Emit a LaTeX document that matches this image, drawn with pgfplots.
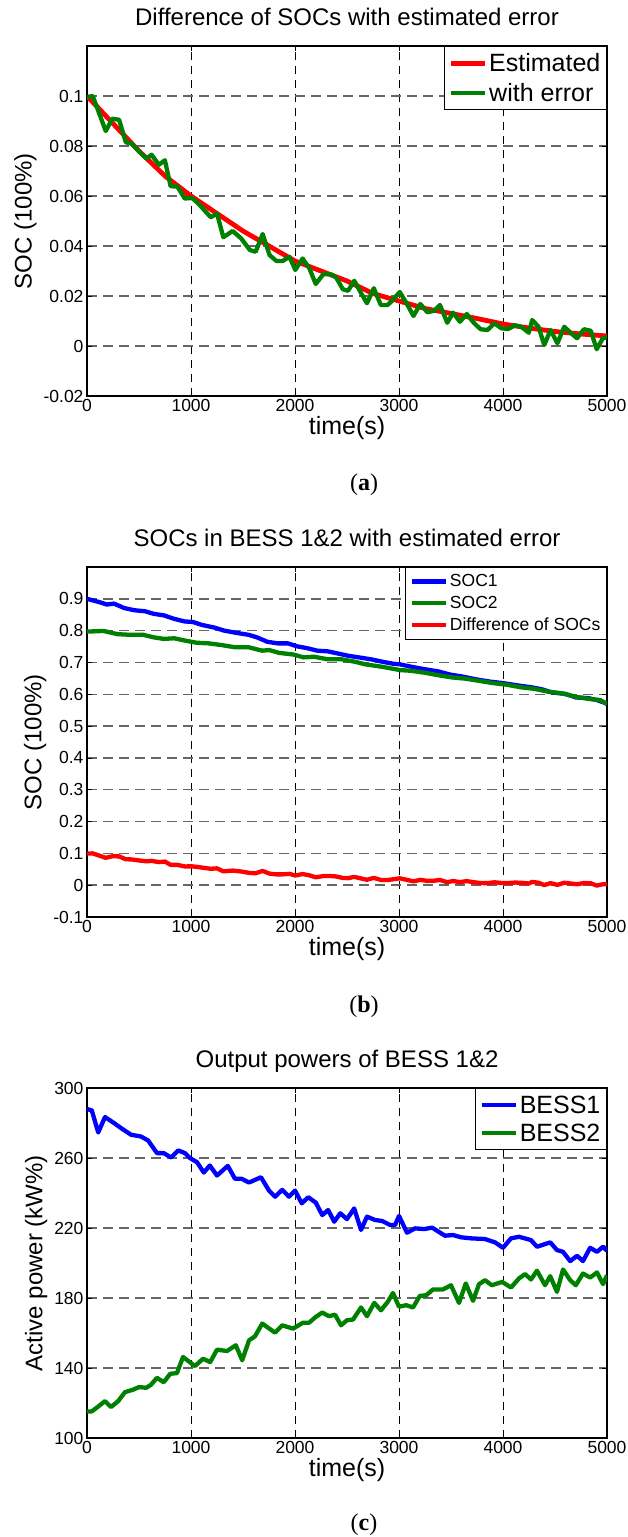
\documentclass[border=0pt]{standalone}
\usepackage{fontspec}
\setmainfont{Liberation Sans}
\newfontfamily\capfont{Liberation Serif}
\usepackage{pgfplots}
\pgfplotsset{compat=1.18}

\definecolor{mred}{rgb}{1,0,0}
\definecolor{mgreen}{rgb}{0,0.5,0}
\definecolor{mblue}{rgb}{0,0,1}

\pgfplotsset{
  matfig/.style={
    scale only axis, width=520pt, height=350pt,
    xmin=0, xmax=5000,
    xtick={0,1000,2000,3000,4000,5000},
    xticklabels={0,1000,2000,3000,4000,5000},
    grid=major,
    x grid style={black, line width=1pt, dash pattern=on 8pt off 6pt},
    y grid style={black!60, line width=1.4pt, dash pattern=on 10pt off 6pt},
    axis line style={line width=1.6pt},
    tick align=inside, major tick length=5pt,
    tick style={black, line width=0.8pt},
    tick label style={font=\fontsize{17.5}{20}\selectfont},
    title style={font=\fontsize{24}{28}\selectfont, at={(0.5,1)}, anchor=base, yshift=15pt},
    xlabel={time(s)},
    xlabel style={font=\fontsize{25}{28}\selectfont, at={(0.5,0)}, anchor=north, yshift=-17pt},
    ylabel style={font=\fontsize{24}{28}\selectfont},
    legend cell align=left,
    legend style={draw=black, line width=1.2pt, fill=white, inner xsep=4pt, inner ysep=4pt},
    legend image code/.code={\draw[#1] (0pt,0pt) -- (34pt,0pt);},
    every axis plot/.append style={line width=4.3pt, line join=round, mark=none},
  },
}

\pgfplotstableread{
x y
0 0.0995
55 0.1
180 0.086
244 0.0909
309 0.0905
373 0.0815
428 0.081
500 0.0778
572 0.075
621 0.0765
691 0.0725
749 0.0743
804 0.0639
868 0.0638
940 0.059
1010 0.0592
1070 0.057
1190 0.0515
1250 0.053
1311 0.0435
1401 0.046
1483 0.043
1566 0.0384
1622 0.0377
1689 0.0448
1755 0.0364
1821 0.034
1881 0.034
1947 0.0357
2003 0.0304
2073 0.035
2139 0.031
2199 0.0248
2272 0.0287
2344 0.0287
2394 0.0275
2460 0.0227
2510 0.0221
2570 0.0261
2636 0.0211
2692 0.0171
2758 0.0231
2825 0.0164
2891 0.0164
2940 0.0184
3007 0.0216
3073 0.0171
3139 0.012
3205 0.0168
3272 0.0135
3338 0.0141
3394 0.0164
3464 0.0093
3520 0.0133
3586 0.0097
3652 0.0128
3719 0.0093
3785 0.0067
3851 0.0064
3917 0.0091
3983 0.0071
4050 0.0068
4116 0.0083
4182 0.0075
4248 0.0053
4281 0.0104
4341 0.0077
4397 0.0004
4457 0.0064
4523 0.0011
4589 0.0077
4656 0.0051
4712 0.0031
4778 0.0067
4844 0.0061
4901 -0.0013
4960 0.0031
5000 0.0035
}\witherr

\pgfplotstableread{
x y
0 0.100
250 0.089
500 0.078
750 0.068
1000 0.060
1250 0.053
1500 0.046
1750 0.040
2000 0.034
2250 0.030
2500 0.026
2750 0.021
3000 0.018
3250 0.015
3500 0.013
3750 0.011
4000 0.0088
4250 0.0072
4500 0.0058
4750 0.0048
5000 0.004
}\estim

\pgfplotstableread{
x y
0 0.900
126 0.889
192 0.882
259 0.885
358 0.871
458 0.864
557 0.861
640 0.853
739 0.848
839 0.837
938 0.829
1021 0.827
1104 0.818
1220 0.810
1320 0.800
1436 0.793
1552 0.787
1634 0.779
1734 0.765
1833 0.760
1933 0.760
2016 0.751
2115 0.745
2215 0.737
2314 0.735
2414 0.728
2513 0.721
2613 0.716
2729 0.710
2845 0.702
2944 0.696
3011 0.694
3127 0.686
3243 0.679
3375 0.672
3491 0.662
3607 0.656
3740 0.647
3872 0.640
4000 0.635
4139 0.628
4271 0.622
4370 0.616
4469 0.606
4602 0.601
4701 0.590
4818 0.588
4900 0.582
5000 0.571
}\socone

\pgfplotstableread{
x y
0 0.797
159 0.799
292 0.789
408 0.787
540 0.787
640 0.779
739 0.774
839 0.776
938 0.769
1054 0.762
1170 0.760
1287 0.755
1419 0.748
1552 0.748
1684 0.737
1751 0.739
1850 0.730
1983 0.725
2082 0.716
2182 0.718
2314 0.710
2447 0.710
2579 0.702
2679 0.694
2845 0.686
3011 0.676
3110 0.674
3243 0.668
3375 0.660
3508 0.653
3641 0.649
3773 0.642
3906 0.635
4038 0.630
4171 0.622
4304 0.617
4436 0.608
4569 0.603
4701 0.592
4834 0.585
4934 0.582
5000 0.569
}\soctwo

\pgfplotstableread{
x y
0 288.0
46 287.2
108 274.6
173 283.4
269 279.6
327 277.1
423 273.3
519 272.3
588 270.0
673 262.8
738 262.8
808 260.3
877 264.3
942 262.8
992 259.9
1058 257.6
1123 251.7
1181 255.7
1250 250.0
1354 255.5
1423 248.1
1488 248.1
1558 246.0
1673 249.0
1750 241.4
1808 237.9
1877 241.8
1942 237.9
2000 241.4
2065 234.1
2127 237.6
2200 234.5
2262 227.4
2319 230.3
2377 223.6
2435 228.4
2500 225.1
2569 231.2
2635 218.9
2692 226.5
2769 224.6
2838 224.0
2915 221.7
2962 221.7
3000 226.9
3077 217.3
3154 219.8
3242 219.4
3319 220.2
3442 215.6
3519 216.0
3596 214.7
3692 214.1
3827 213.7
3923 211.8
4000 208.7
4077 214.1
4154 215.0
4269 213.1
4327 209.3
4454 211.8
4519 207.4
4577 206.4
4646 201.1
4712 204.1
4769 201.1
4838 208.7
4904 206.4
4962 209.3
5000 207.0
}\bessone

\pgfplotstableread{
x y
0 115.2
46 115.2
108 118.0
173 121.1
231 117.7
300 121.1
365 126.2
442 127.6
500 129.1
569 128.7
615 130.4
673 134.4
738 131.9
800 136.7
865 137.1
923 146.3
1038 141.1
1115 145.3
1185 143.4
1250 150.5
1346 149.7
1431 153.0
1492 144.4
1558 155.8
1615 158.1
1685 165.4
1808 160.2
1877 164.4
1981 162.5
2077 165.9
2135 165.9
2200 169.2
2262 171.7
2327 169.6
2385 170.5
2442 164.4
2500 167.3
2558 167.7
2635 174.6
2692 169.6
2762 177.2
2827 173.0
2892 177.8
2942 182.9
3000 175.0
3069 175.9
3135 174.6
3200 181.2
3262 181.6
3327 184.9
3423 184.9
3500 187.3
3577 177.2
3642 188.3
3712 178.4
3769 187.9
3827 190.2
3892 187.3
3992 189.2
4077 186.0
4154 191.2
4212 193.7
4269 190.6
4327 195.6
4404 187.3
4454 192.5
4519 183.5
4577 196.3
4646 190.2
4700 187.3
4769 194.0
4838 191.7
4904 194.6
4962 187.9
5000 193.0
}\besstwo

\begin{document}
\begin{tikzpicture}
\useasboundingbox (0pt,0pt) rectangle (627pt,-1537pt);

% (a)
\begin{axis}[matfig, at={(87pt,-46pt)}, anchor=north west,
  title={Difference of SOCs with estimated error},
  ymin=-0.02, ymax=0.12,
  ytick={-0.02,0,0.02,0.04,0.06,0.08,0.1},
  yticklabels={-0.02,0,0.02,0.04,0.06,0.08,0.1},
  ylabel={SOC (100\%)},
  legend style={at={(1,1)}, anchor=north east, font=\fontsize{25}{28}\selectfont, row sep=6pt, inner ysep=5pt},
]
\addplot[mred, line width=4.8pt] table {\estim};
\addlegendentry{Estimated}
\addplot[mgreen] table {\witherr};
\addlegendentry{with error}
\end{axis}

% (b)
\begin{axis}[matfig, at={(87pt,-567pt)}, anchor=north west,
  title={SOCs in BESS 1\&2 with estimated error},
  ymin=-0.1, ymax=1.0,
  ytick={-0.1,0,0.1,0.2,0.3,0.4,0.5,0.6,0.7,0.8,0.9},
  yticklabels={-0.1,0,0.1,0.2,0.3,0.4,0.5,0.6,0.7,0.8,0.9},
  ylabel={SOC (100\%)},
  legend style={at={(1,1)}, anchor=north east, font=\fontsize{17.5}{20}\selectfont, row sep=4pt, inner ysep=5pt},
]
\addplot[mblue] table {\socone};
\addlegendentry{SOC1}
\addplot[mgreen] table {\soctwo};
\addlegendentry{SOC2}
\addplot[mred] table {\witherr};
\addlegendentry{Difference of SOCs}
\end{axis}

% (c)
\begin{axis}[matfig, at={(87pt,-1088pt)}, anchor=north west,
  title={Output powers of BESS 1\&2},
  ymin=100, ymax=300,
  ytick={100,140,180,220,260,300},
  yticklabels={100,140,180,220,260,300},
  ylabel={Active power (kW\%)},
  legend style={at={(1,1)}, anchor=north east, font=\fontsize{25}{28}\selectfont, row sep=5pt, inner ysep=5pt},
]
\addplot[mblue] table {\bessone};
\addlegendentry{BESS1}
\addplot[mgreen] table {\besstwo};
\addlegendentry{BESS2}
\end{axis}

\node[font=\capfont\fontsize{24}{28}\selectfont] at (364pt,-485pt) {(\textbf{a})};
\node[font=\capfont\fontsize{24}{28}\selectfont] at (364pt,-1007pt) {(\textbf{b})};
\node[font=\capfont\fontsize{24}{28}\selectfont] at (364pt,-1525pt) {(\textbf{c})};
\end{tikzpicture}
\end{document}
